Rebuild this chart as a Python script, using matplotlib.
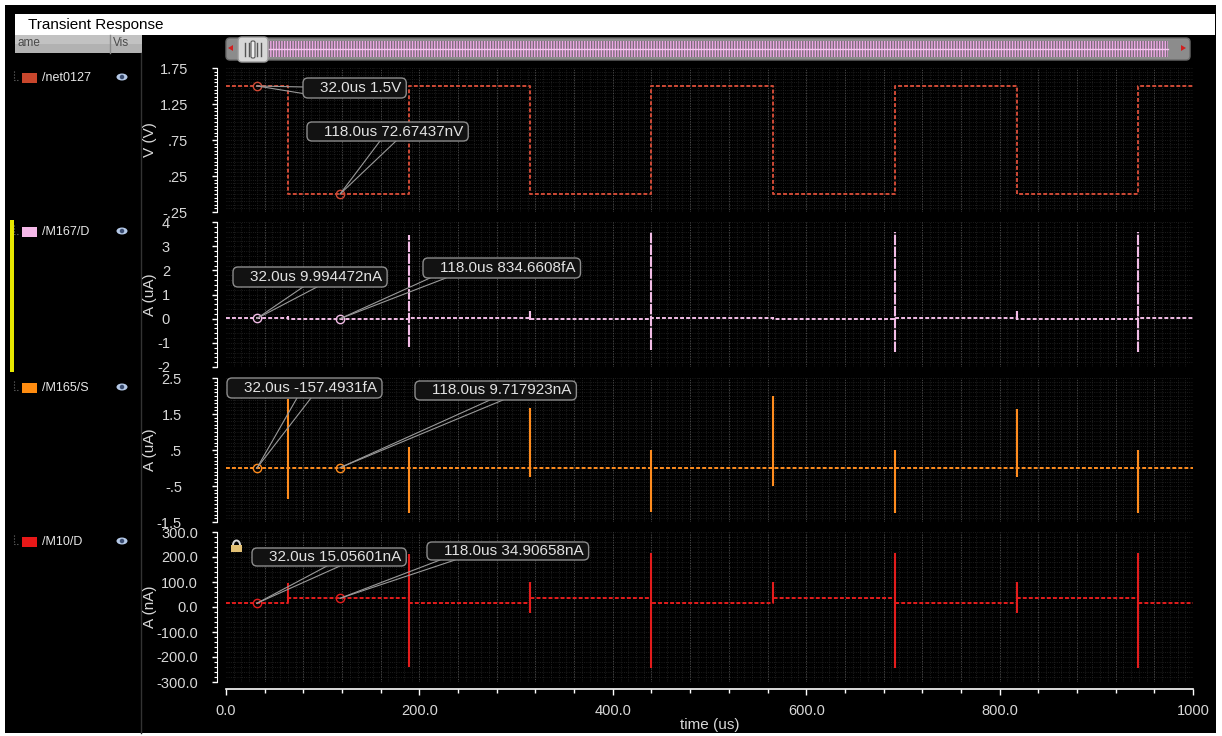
import numpy as np
import matplotlib
matplotlib.use("Agg")
import matplotlib.pyplot as plt
from matplotlib.patches import Rectangle, FancyBboxPatch, Ellipse, Arc, Polygon
from matplotlib.lines import Line2D
from matplotlib.ticker import MultipleLocator
from matplotlib.transforms import IdentityTransform

plt.rcParams['font.family'] = ['Liberation Sans', 'DejaVu Sans']
plt.rcParams['hatch.linewidth'] = 1.0

# ---------------- waveform data ----------------
t_stop = 1000.0                                       # us
edge_times = [64, 189, 314, 440, 566, 692, 818, 943]  # us, clock transitions

# plateau values between transitions (SI units: V or A)
net0127_levels = [1.5, 72.67437e-9, 1.5, 72.67437e-9, 1.5,
                  72.67437e-9, 1.5, 72.67437e-9, 1.5]
m167_levels = [9.994472e-9, 834.6608e-15, 9.994472e-9, 834.6608e-15, 9.994472e-9,
               834.6608e-15, 9.994472e-9, 834.6608e-15, 9.994472e-9]
m165_levels = [-157.4931e-15, 9.717923e-9, -157.4931e-15, 9.717923e-9, -157.4931e-15,
               9.717923e-9, -157.4931e-15, 9.717923e-9, -157.4931e-15]
m10_levels = [15.05601e-9, 34.90658e-9, 15.05601e-9, 34.90658e-9, 15.05601e-9,
              34.90658e-9, 15.05601e-9, 34.90658e-9, 15.05601e-9]

# switching spikes at each transition (axis units)
m167_spike_hi = [0.12, 3.47, 0.30, 3.60, 0.08, 3.60, 0.30, 3.60]          # uA
m167_spike_lo = [-0.03, -1.16, -0.05, -1.28, -0.03, -1.36, -0.05, -1.36]  # uA
m165_spike_hi = [1.93, 0.57, 1.68, 0.49, 2.00, 0.49, 1.65, 0.49]          # uA
m165_spike_lo = [-0.85, -1.26, -0.24, -1.21, -0.51, -1.24, -0.24, -1.24]  # uA
m10_spike_hi = [96, 212, 100, 216, 100, 216, 100, 216]                    # nA
m10_spike_lo = [15, -240, -24, -244, 30, -244, -24, -244]                 # nA

cursor_times = [32.0, 118.0]                          # us

trace_names = ['/net0127', '/M167/D', '/M165/S', '/M10/D']
trace_units = ['V', 'A', 'A', 'A']
axis_titles = ['V (V)', 'A (uA)', 'A (uA)', 'A (nA)']

v_ticks = [-0.25, 0.25, 0.75, 1.25, 1.75]
v_tick_labels = ['-.25', '.25', '.75', '1.25', '1.75']
m167_ticks = [-2, -1, 0, 1, 2, 3, 4]
m167_tick_labels = ['-2', '-1', '0', '1', '2', '3', '4']
m165_ticks = [-1.5, -0.5, 0.5, 1.5, 2.5]
m165_tick_labels = ['-1.5', '-.5', '.5', '1.5', '2.5']
m10_ticks = [-300, -200, -100, 0, 100, 200, 300]
m10_tick_labels = ['-300.0', '-200.0', '-100.0', '0.0', '100.0', '200.0', '300.0']
time_ticks = [0, 200, 400, 600, 800, 1000]
time_tick_labels = ['0.0', '200.0', '400.0', '600.0', '800.0', '1000']

# ---------------- layout / style ----------------
W, H = 1222, 736
X0, X1 = 226, 1193
BG = 'black'
TXT = '#d8d8d8'

panels = [
    dict(levels=net0127_levels, hi=None, lo=None, ticks=v_ticks, labels=v_tick_labels,
         top=68, bottom=212, ylim=(-0.25, 1.75), minor=0.05, lab_right=188, scale=1.0,
         color='#cf4a36', legend='#c8462c', spike_ls='solid',
         boxes=[(303, 78, 98, (304, 87), (306, 94)),
                (307, 122, 141, (380, 141), (396, 141))]),
    dict(levels=m167_levels, hi=m167_spike_hi, lo=m167_spike_lo, ticks=m167_ticks,
         labels=m167_tick_labels, top=222, bottom=367, ylim=(-2, 4), minor=0.2,
         lab_right=170, scale=1e6, color='#f2bce6', legend='#f4b8e8',
         spike_ls=(0, (5, 0.7)),
         boxes=[(233, 267, 287, (303, 287), (317, 287)),
                (423, 258, 278, (430, 278), (446, 278))]),
    dict(levels=m165_levels, hi=m165_spike_hi, lo=m165_spike_lo, ticks=m165_ticks,
         labels=m165_tick_labels, top=378, bottom=522, ylim=(-1.5, 2.5), minor=0.1,
         lab_right=182, scale=1e6, color='#ff8c1e', legend='#ff8c10', spike_ls='solid',
         boxes=[(227, 378, 398, (297, 398), (311, 398)),
                (415, 381, 400, (490, 400), (503, 400))]),
    dict(levels=m10_levels, hi=m10_spike_hi, lo=m10_spike_lo, ticks=m10_ticks,
         labels=m10_tick_labels, top=532, bottom=682, ylim=(-300, 300), minor=20,
         lab_right=198, scale=1e9, color='#e41c1c', legend='#e81818', spike_ls='solid',
         boxes=[(252, 548, 566, (327, 566), (340, 566)),
                (427, 542, 560, (440, 560), (455, 560))]),
]

PT = 0.72  # points per pixel at 100 dpi


def eng(value, unit):
    prefixes = {-15: 'f', -12: 'p', -9: 'n', -6: 'u', -3: 'm', 0: ''}
    exp = int(np.floor(np.log10(abs(value)) / 3) * 3)
    return f"{value / 10.0 ** exp:.7g}{prefixes[exp]}{unit}"


fig = plt.figure(figsize=(W / 100, H / 100), dpi=100, facecolor='white')
ID = IdentityTransform()


def Y(py):
    return H - py


def add(artist):
    artist.set_transform(ID)
    fig.add_artist(artist)
    return artist


# window frame
add(Rectangle((5, Y(733)), 1211, 728, facecolor=BG, edgecolor='none', zorder=-10))
add(Rectangle((15, Y(35)), 1200, 21, facecolor='white', edgecolor='none', zorder=1))
fig.text(28, Y(24.5), 'Transient Response', fontsize=11, color='black', va='center',
         transform=ID)

# signal list header
add(Rectangle((15, Y(53)), 127, 18, facecolor='#b2b2b2', edgecolor='none', zorder=1))
add(Rectangle((15, Y(44)), 127, 9, facecolor='#c2c2c2', edgecolor='none', zorder=1))
add(Line2D([110, 110], [Y(35), Y(53)], color='#8a8a8a', lw=1, zorder=2))
fig.text(17, Y(43.5), 'ame', fontsize=8.5, color='#4a4a4a', va='center', transform=ID)
fig.text(113, Y(43.5), 'Vis', fontsize=8.5, color='#4a4a4a', va='center', transform=ID)
add(Line2D([141, 141], [Y(53), Y(733)], color='#333333', lw=1, zorder=2))

# overview scrollbar
add(FancyBboxPatch((226, Y(60)), 964, 22, boxstyle='round,pad=0,rounding_size=4',
                   facecolor='#8c8c8c', edgecolor='#6a6a6a', lw=1, zorder=1))
add(Rectangle((268, Y(57)), 900, 16, facecolor='#7c6c7a', edgecolor='#eeaae6',
              hatch='||||||', lw=0, zorder=2))
add(Line2D([268, 1168], [Y(49), Y(49)], color='#f6c6f0', lw=1, zorder=3))
add(FancyBboxPatch((238, Y(62)), 30, 25, boxstyle='round,pad=0,rounding_size=4',
                   facecolor='#d8d8d8', edgecolor='#9a9a9a', lw=1, zorder=4))
for hx in (245, 249, 257, 261):
    add(Line2D([hx, hx], [Y(43), Y(56)], color='#555555', lw=1, zorder=5))
add(FancyBboxPatch((251, Y(58)), 4, 17, boxstyle='round,pad=0,rounding_size=1.5',
                   facecolor='#eeeeee', edgecolor='#555555', lw=0.8, zorder=5))
add(Polygon([(228, Y(48)), (233, Y(45)), (233, Y(51))], closed=True,
            facecolor='#d02020', edgecolor='none', zorder=3))
add(Polygon([(1186, Y(48)), (1181, Y(45)), (1181, Y(51))], closed=True,
            facecolor='#d02020', edgecolor='none', zorder=3))

# selection bar beside the second signal
add(Rectangle((10, Y(372)), 3.5, 152, facecolor='#e8e800', edgecolor='none', zorder=2))

renderer = fig.canvas.get_renderer()
axes = []
for i, p in enumerate(panels):
    ax = fig.add_axes([X0 / W, (H - p['bottom']) / H, (X1 - X0) / W,
                       (p['bottom'] - p['top']) / H])
    ax.set_facecolor(BG)
    ax.set_xlim(0, t_stop)
    ax.set_ylim(*p['ylim'])
    axes.append(ax)

    # dotted background mesh
    ax.vlines(np.arange(8, t_stop, 8), 0, 1, transform=ax.get_xaxis_transform(),
              colors='#262626', lw=0.6, linestyles='dotted', zorder=0.5)
    ax.hlines(np.arange(p['ylim'][0], p['ylim'][1] + 1e-9, p['minor']), 0, 1,
              transform=ax.get_yaxis_transform(), colors='#262626', lw=0.6,
              linestyles='dotted', zorder=0.5)
    ax.vlines(np.arange(40, t_stop, 40), 0, 1, transform=ax.get_xaxis_transform(),
              colors='#4c4c4c', lw=0.7, linestyles='dotted', zorder=0.6)

    # trace: plateaus between transitions
    lv = np.asarray(p['levels']) * p['scale']
    tx = np.r_[0.0, edge_times, t_stop]
    ty = np.r_[lv, lv[-1]]
    ax.step(tx, ty, where='post', color=p['color'], lw=1.4,
            ls=(0, (2, 1.1)), zorder=2)
    if p['hi'] is not None:
        ax.vlines(edge_times, p['lo'], p['hi'], colors=p['color'], lw=1.5,
                  linestyles=[p['spike_ls']], zorder=2.1)

    # cursor values taken from the plateau under each cursor
    seg = np.searchsorted(edge_times, cursor_times)
    cur_si = [p['levels'][s] for s in seg]
    cur_y = [v * p['scale'] for v in cur_si]
    ax.plot(cursor_times, cur_y, 'o', ms=6, mfc='none', mec=p['color'], mew=1.0,
            zorder=3)

    # axes styling
    for s in ('top', 'right'):
        ax.spines[s].set_visible(False)
    ax.spines['left'].set_position(('outward', 9 * PT))
    ax.spines['left'].set_color('white')
    ax.set_yticks(p['ticks'], p['labels'])
    ax.yaxis.set_minor_locator(MultipleLocator(p['minor']))
    pad_px = (217 - 5) - p['lab_right']
    ax.tick_params(axis='y', which='major', direction='out', length=5 * PT, width=1,
                   color='white', labelcolor=TXT, labelsize=10.5, pad=pad_px * PT)
    ax.tick_params(axis='y', which='minor', direction='out', length=3.5 * PT,
                   width=0.8, color='white')
    ax.set_xticks(time_ticks, time_tick_labels)
    ax.xaxis.set_minor_locator(MultipleLocator(40))
    if i < len(panels) - 1:
        ax.spines['bottom'].set_visible(False)
        ax.tick_params(axis='x', which='both', length=0, labelbottom=False)
    else:
        ax.spines['bottom'].set_position(('outward', 7 * PT))
        ax.spines['bottom'].set_color('white')
        ax.spines['bottom'].set_linewidth(1.2)
        ax.tick_params(axis='x', which='major', direction='out', length=6 * PT,
                       width=1, color='white', labelcolor=TXT, labelsize=10.5,
                       pad=9 * PT)
        ax.tick_params(axis='x', which='minor', direction='out', length=3.5 * PT,
                       width=1, color='white')

    # y axis title
    fig.text(150, Y((p['top'] + p['bottom']) / 2), axis_titles[i], rotation=90,
             ha='center', va='center', fontsize=11, color=TXT, transform=ID)

    # signal list entry
    ly = p['top'] + 10
    add(Rectangle((22, Y(ly + 5)), 15, 10, facecolor=p['legend'], edgecolor='none',
                  zorder=2))
    fig.text(42, Y(ly), trace_names[i], fontsize=9, color='#e8e8e8', va='center',
             transform=ID)
    add(Line2D([14, 14, 18], [Y(ly - 7), Y(ly + 2), Y(ly + 2)], color='#707070',
               lw=0.8, ls=':', zorder=2))
    add(Ellipse((122, Y(ly - 1)), 11, 7, facecolor='#b4c8e6', edgecolor='none', zorder=2))
    add(Ellipse((122, Y(ly - 1)), 4.5, 4.5, facecolor='#3a4c70', edgecolor='none',
                zorder=3))

    # cursor call-outs
    for k, (tc, vs, vy) in enumerate(zip(cursor_times, cur_si, cur_y)):
        left, top, bottom, e1, e2 = p['boxes'][k]
        mx, my = ax.transData.transform((tc, vy))
        label = f"{tc:.1f}us {eng(vs, trace_units[i])}"
        txt = fig.text(left + 17, Y((top + bottom) / 2), label, fontsize=11,
                       color='#e2e2e2', ha='left', va='center', transform=ID,
                       zorder=7)
        bb = txt.get_window_extent(renderer)
        right = bb.x1 + 5
        for ex, ey in (e1, e2):
            add(Line2D([mx, ex], [my, Y(ey)], color='#9a9a9a', lw=0.8, zorder=5))
        add(FancyBboxPatch((left, Y(bottom)), right - left, bottom - top,
                           boxstyle='round,pad=0,rounding_size=5',
                           facecolor='#121212', edgecolor='#8c8c8c', lw=1.0, zorder=6))

# lock icon on the bottom strip
add(Arc((236.5, Y(545)), 7, 9, theta1=0, theta2=180, color='#d8d8d8', lw=1.4, zorder=4))
add(Rectangle((231, Y(552)), 11, 7, facecolor='#e2c074', edgecolor='none', zorder=4))

fig.text((X0 + X1) / 2, Y(725), 'time (us)', ha='center', va='center', fontsize=11,
         color=TXT, transform=ID)

fig.savefig('out.png', dpi=100, facecolor='white')
